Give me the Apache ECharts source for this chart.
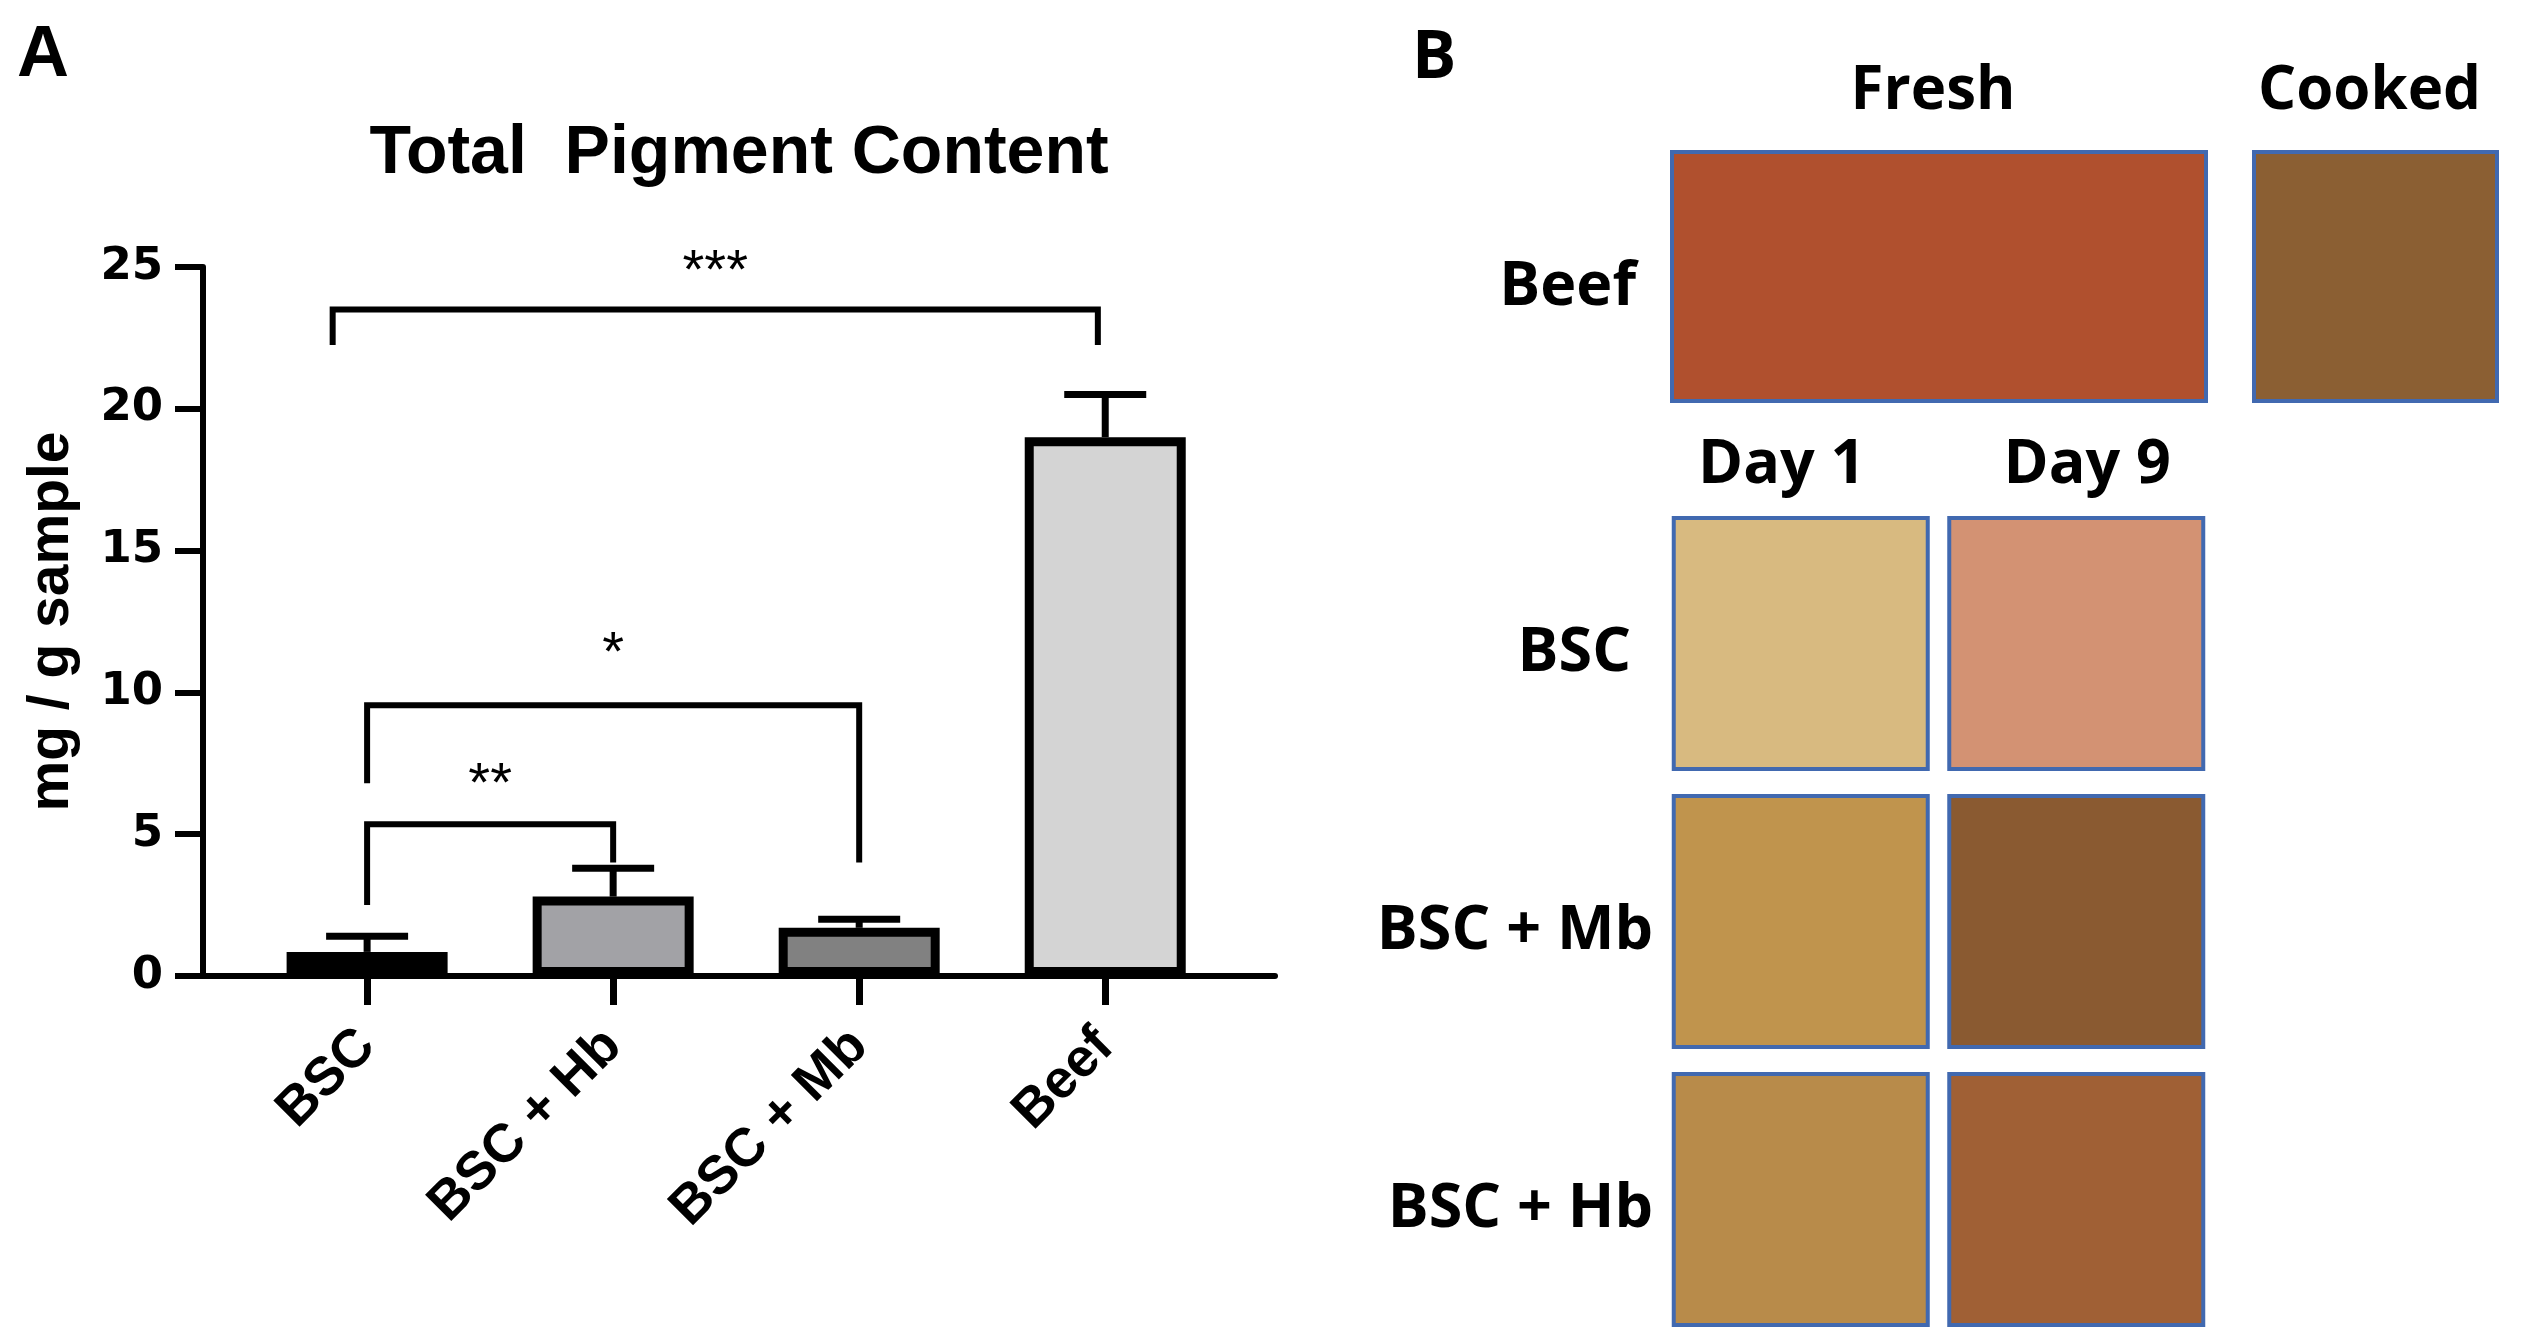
<!DOCTYPE html>
<html>
<head>
<meta charset="utf-8">
<script src="https://cdn.jsdelivr.net/npm/echarts@6/dist/echarts.min.js"></script>
<style>
  html, body { margin: 0; padding: 0; background: #fff; }
  #chart { width: 2523px; height: 1344px; }
</style>
</head>
<body>
<div id="chart"></div>
<script>
/* ---------- panel A: total pigment content ---------- */
const groups    = ['BSC', 'BSC + Hb', 'BSC + Mb', 'Beef'];
const means     = [0.85, 2.8, 1.7, 19.0];
const upperErr  = [1.4, 3.8, 2.0, 20.5];
const barColors = ['#000000', '#a2a2a6', '#818181', '#d4d4d4'];
const yTicks    = [0, 5, 10, 15, 20, 25];

// significance brackets (x in group index units, y in mg/g)
const brFrom   = [-0.14, 0, 0];
const brTo     = [2.97, 2, 1];
const brTop    = [23.5, 9.55, 5.35];
const brLegL   = [22.25, 6.8, 2.5];
const brLegR   = [22.25, 4.0, 4.0];
const brLabel  = ['***', '*', '**'];
const brLabelY = [24.8, 11.35, 6.7];

/* ---------- panel B: colour swatches ---------- */
const beefCols    = ['Fresh', 'Cooked'];
const beefSpan    = [2, 1];
const beefColors  = ['#b0502e', '#8b5f33'];
const swatchCols  = ['Day 1', 'Day 9'];
const swatchRows  = ['BSC', 'BSC + Mb', 'BSC + Hb'];
const swatchColors = [
  ['#d8ba80', '#d39273'],
  ['#c0944d', '#8a5a31'],
  ['#b88b4a', '#a06035']
];

const ARIAL = '"Liberation Sans", Arial, sans-serif';
const SEGOE = '"Open Sans", "Noto Sans", sans-serif';
const BORDER = '#4169b0';

const chart = echarts.init(document.getElementById('chart'), null, {renderer: 'canvas'});

// slot layout for the beef row
const beefStart = beefSpan.map((s, i) => beefSpan.slice(0, i).reduce((a, b) => a + b, 0));
const beefSlots = beefSpan.reduce((a, b) => a + b, 0);

function swatchItem(gap, colors, header) {
  return function (params, api) {
    const c0 = api.coord([api.value(0), api.value(1)]);
    const c1 = api.coord([api.value(0) + api.value(2) - 1, api.value(1)]);
    const band = api.size([1, 1]);
    const x = c0[0] - band[0] / 2 + gap[0] / 2;
    const y = c0[1] - band[1] / 2 + gap[1] / 2;
    const w = c1[0] - c0[0] + band[0] - gap[0];
    const h = band[1] - gap[1];
    const kids = [{
      type: 'rect',
      shape: {x, y, width: w, height: h},
      style: {fill: colors(params.dataIndex), stroke: BORDER, lineWidth: 4}
    }];
    if (header) {
      kids.push({
        type: 'text',
        x: x + w / 2 - 6, y: y - 60,
        style: {text: header[params.dataIndex], fill: '#000',
          font: 'bold 60px ' + SEGOE, align: 'center', verticalAlign: 'middle',
          textAlign: 'center', textVerticalAlign: 'middle'}
      });
    }
    return {type: 'group', children: kids};
  };
}

const lowerData = [];
swatchRows.forEach((r, ri) => swatchCols.forEach((c, ci) => lowerData.push([ci, ri, 1])));

const bFont = {fontFamily: SEGOE, fontWeight: 'bold', fontSize: 61, color: '#000'};
const rowPad = (top, right) => Object.assign({padding: [top, right, 0, 0]}, bFont);

const option = {
  animation: false,
  backgroundColor: '#fff',
  title: [
    {text: 'A', left: 17, top: 20, padding: 0,
     textStyle: {fontFamily: ARIAL, fontWeight: 'bold', fontSize: 72, color: '#000'}},
    {text: 'Total  Pigment Content', left: 739, textAlign: 'center', top: 120, padding: 0,
     textStyle: {fontFamily: ARIAL, fontWeight: 'bold', fontSize: 68, color: '#000'}},
    {text: 'B', left: 1412, top: 26, padding: 0,
     textStyle: {fontFamily: SEGOE, fontWeight: 'bold', fontSize: 66, color: '#000'}}
  ],
  grid: [
    {left: 203, right: 1248, top: 267, bottom: 368, containLabel: false, outerBoundsMode: 'none'},
    {left: 1648, right: 2, top: 138.5, height: 276, containLabel: false, outerBoundsMode: 'none'},
    {left: 1663, right: 309, top: 504.5, height: 834, containLabel: false, outerBoundsMode: 'none'}
  ],
  xAxis: [
    {type: 'value', gridIndex: 0, min: -0.667, max: 3.69,
     splitLine: {show: false},
     axisLine: {show: true, onZero: true, lineStyle: {color: '#000', width: 6}},
     axisTick: {show: true, length: 29, customValues: [0, 1, 2, 3], lineStyle: {color: '#000', width: 7}},
     axisLabel: {show: true, customValues: [0, 1, 2, 3], rotate: 45, margin: 62,
       formatter: v => groups[Math.round(v)],
       fontFamily: ARIAL, fontWeight: 'bold', fontSize: 54, color: '#000'}},
    {type: 'category', gridIndex: 1, show: false,
     data: Array.from({length: beefSlots}, (_, i) => i)},
    {type: 'category', gridIndex: 2, position: 'top', data: swatchCols,
     axisLine: {show: false}, axisTick: {show: false}, splitLine: {show: false},
     axisLabel: {show: true, margin: 8,
       formatter: (v, i) => '{d' + i + '|' + v + '}',
       rich: {
         d0: Object.assign({padding: [0, 38, 0, 0]}, bFont),
         d1: Object.assign({padding: [0, 0, 0, 22]}, bFont)
       }}}
  ],
  yAxis: [
    {type: 'value', gridIndex: 0, min: yTicks[0], max: yTicks[yTicks.length - 1], interval: 5,
     name: 'mg / g sample', nameLocation: 'middle', nameRotate: 90, nameGap: 122,
     nameTextStyle: {fontFamily: ARIAL, fontWeight: 'bold', fontSize: 57, color: '#000'},
     splitLine: {show: false},
     axisLine: {show: true, onZero: false, lineStyle: {color: '#000', width: 6}},
     axisTick: {show: true, length: 28, lineStyle: {color: '#000', width: 6}},
     axisLabel: {margin: 40, fontFamily: '"DejaVu Sans", sans-serif', fontWeight: 'bold', fontSize: 45, color: '#000'}},
    {type: 'category', gridIndex: 1, data: ['Beef'],
     axisLine: {show: false}, axisTick: {show: false}, splitLine: {show: false},
     axisLabel: {margin: 12, formatter: v => '{r|' + v + '}', rich: {r: rowPad(22, 0)}}},
    {type: 'category', gridIndex: 2, data: swatchRows, inverse: true,
     axisLine: {show: false}, axisTick: {show: false}, splitLine: {show: false},
     axisLabel: {margin: 10, formatter: (v, i) => '{r' + i + '|' + v + '}',
       rich: {r0: rowPad(20, 22), r1: rowPad(20, 0), r2: rowPad(20, 0)}}}
  ],
  series: [
    {
      type: 'bar', xAxisIndex: 0, yAxisIndex: 0, barWidth: 161, z: 3,
      data: means.map((m, i) => ({value: [i, m],
        itemStyle: {color: barColors[i], borderColor: '#000', borderWidth: 9}}))
    },
    {
      type: 'custom', xAxisIndex: 0, yAxisIndex: 0, z: 4, clip: false,
      data: means.map((m, i) => [i, m, upperErr[i]]),
      renderItem: (params, api) => {
        const b = api.coord([api.value(0), api.value(1)]);
        const t = api.coord([api.value(0), api.value(2)]);
        const hw = 41;
        return {type: 'group', children: [
          {type: 'line', shape: {x1: b[0], y1: b[1], x2: t[0], y2: t[1]},
           style: {stroke: '#000', lineWidth: 7}},
          {type: 'line', shape: {x1: t[0] - hw, y1: t[1], x2: t[0] + hw, y2: t[1]},
           style: {stroke: '#000', lineWidth: 7}}
        ]};
      }
    },
    {
      type: 'custom', xAxisIndex: 0, yAxisIndex: 0, z: 5, clip: false,
      data: brFrom.map((f, i) => [f, brTo[i], brTop[i], brLegL[i], brLegR[i], brLabelY[i]]),
      renderItem: (params, api) => {
        const x0 = api.value(0), x1 = api.value(1), top = api.value(2);
        const pts = [
          api.coord([x0, api.value(3)]), api.coord([x0, top]),
          api.coord([x1, top]), api.coord([x1, api.value(4)])
        ];
        const lp = api.coord([(x0 + x1) / 2, api.value(5)]);
        return {type: 'group', children: [
          {type: 'polyline', shape: {points: pts},
           style: {fill: null, stroke: '#000', lineWidth: 6, lineJoin: 'miter'}},
          {type: 'text', x: lp[0], y: lp[1],
           style: {text: brLabel[params.dataIndex], fill: '#000', font: '56px ' + ARIAL,
             align: 'center', verticalAlign: 'middle', textAlign: 'center', textVerticalAlign: 'middle'}}
        ]};
      }
    },
    {
      type: 'custom', xAxisIndex: 1, yAxisIndex: 1, clip: false,
      data: beefCols.map((c, i) => [beefStart[i], 0, beefSpan[i]]),
      renderItem: swatchItem([48, 27], i => beefColors[i], beefCols)
    },
    {
      type: 'custom', xAxisIndex: 2, yAxisIndex: 2, clip: false,
      data: lowerData,
      renderItem: swatchItem([21.5, 27], i => swatchColors[lowerData[i][1]][lowerData[i][0]])
    }
  ]
};

chart.setOption(option);
window.addEventListener('resize', () => chart.resize());
</script>
</body>
</html>
